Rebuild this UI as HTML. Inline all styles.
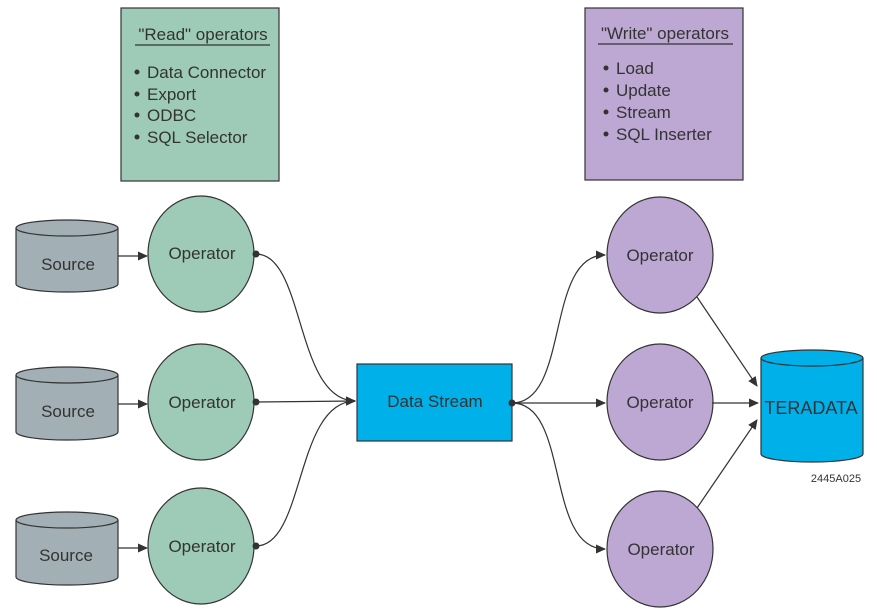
<!DOCTYPE html>
<html><head><style>body{margin:0;background:#fff}svg{display:block}text{font-family:"Liberation Sans",sans-serif;fill:#333}</style></head><body>
<svg width="877" height="615" viewBox="0 0 877 615">
<defs><marker id="a" markerWidth="10" markerHeight="10" refX="9" refY="5" orient="auto" markerUnits="userSpaceOnUse"><path d="M0,0.5 L10,5 L0,9.5z" fill="#333"/></marker></defs>
<g stroke="#333" stroke-width="1.2">
<rect x="121" y="8" width="158" height="173" fill="#9ecbb8"/>
<rect x="585" y="8" width="158" height="172" fill="#bca8d2"/>
<line x1="135" y1="45" x2="270" y2="45"/>
<line x1="598" y1="44" x2="733" y2="44"/>
</g>
<g font-size="17">
<text x="203" y="40" text-anchor="middle">"Read" operators</text>
<text x="147" y="78">Data Connector</text><text x="147" y="100">Export</text><text x="147" y="121">ODBC</text><text x="147" y="143">SQL Selector</text>
<text x="665" y="39" text-anchor="middle">"Write" operators</text>
<text x="616" y="74">Load</text><text x="616" y="96">Update</text><text x="616" y="118">Stream</text><text x="616" y="140">SQL Inserter</text>
</g>
<g fill="#333"><circle cx="137" cy="72" r="2.5"/><circle cx="137" cy="94" r="2.5"/><circle cx="137" cy="115" r="2.5"/><circle cx="137" cy="137" r="2.5"/>
<circle cx="606" cy="68" r="2.5"/><circle cx="606" cy="90" r="2.5"/><circle cx="606" cy="112" r="2.5"/><circle cx="606" cy="134" r="2.5"/></g>
<g stroke="#333" stroke-width="1.2">
<g fill="#a2b0b5">
<path d="M16,228 V284 A51,8 0 0 0 118,284 V228"/><ellipse cx="67" cy="228" rx="51" ry="8"/>
<path d="M16,375 V432 A51,8 0 0 0 118,432 V375"/><ellipse cx="67" cy="375" rx="51" ry="8"/>
<path d="M16,520 V577 A51,8 0 0 0 118,577 V520"/><ellipse cx="67" cy="520" rx="51" ry="8"/>
</g>
<g fill="#9ecbb8"><ellipse cx="201" cy="254" rx="53" ry="58"/><ellipse cx="201" cy="402" rx="53" ry="58"/><ellipse cx="201" cy="546" rx="53" ry="58"/></g>
<g fill="#bca8d2"><ellipse cx="660" cy="255" rx="53" ry="58"/><ellipse cx="660" cy="402" rx="53" ry="58"/><ellipse cx="660" cy="549" rx="53" ry="58"/></g>
<rect x="357" y="364" width="155" height="77" fill="#00b0e8"/>
<path d="M761,358 V454 A51,8 0 0 0 863,454 V358" fill="#00b0e8"/><ellipse cx="812" cy="358" rx="51" ry="8" fill="#00b0e8"/>
<g fill="none" marker-end="url(#a)">
<line x1="118" y1="256" x2="147" y2="256"/><line x1="118" y1="404" x2="147" y2="404"/><line x1="118" y1="548" x2="147" y2="548"/>
<path d="M256,254 C305,254 295,400 355,401"/>
<path d="M256,402 L355,401"/>
<path d="M256,546 C305,546 295,402 355,401"/>
<path d="M512,403 C570,403 545,255 605,255"/>
<path d="M512,403 L605,403"/>
<path d="M512,403 C570,403 545,549 605,549"/>
<path d="M697,297 L757,386"/><path d="M712,403 L758,403"/><path d="M697,508 L757,420"/>
</g>
</g>
<g fill="#333"><circle cx="256" cy="254" r="3.5"/><circle cx="256" cy="402" r="3.5"/><circle cx="256" cy="546" r="3.5"/><circle cx="512" cy="403" r="3.5"/></g>
<g font-size="17" text-anchor="middle">
<text x="68" y="270">Source</text><text x="68" y="417">Source</text><text x="66" y="561">Source</text>
<text x="202" y="259">Operator</text><text x="202" y="408">Operator</text><text x="202" y="552">Operator</text>
<text x="660" y="261">Operator</text><text x="660" y="408">Operator</text><text x="661" y="555">Operator</text>
<text x="435" y="407">Data Stream</text>
<text x="811" y="414" font-size="18">TERADATA</text>
</g>
<text x="836" y="482" font-size="11" text-anchor="middle">2445A025</text>
</svg>
</body></html>
